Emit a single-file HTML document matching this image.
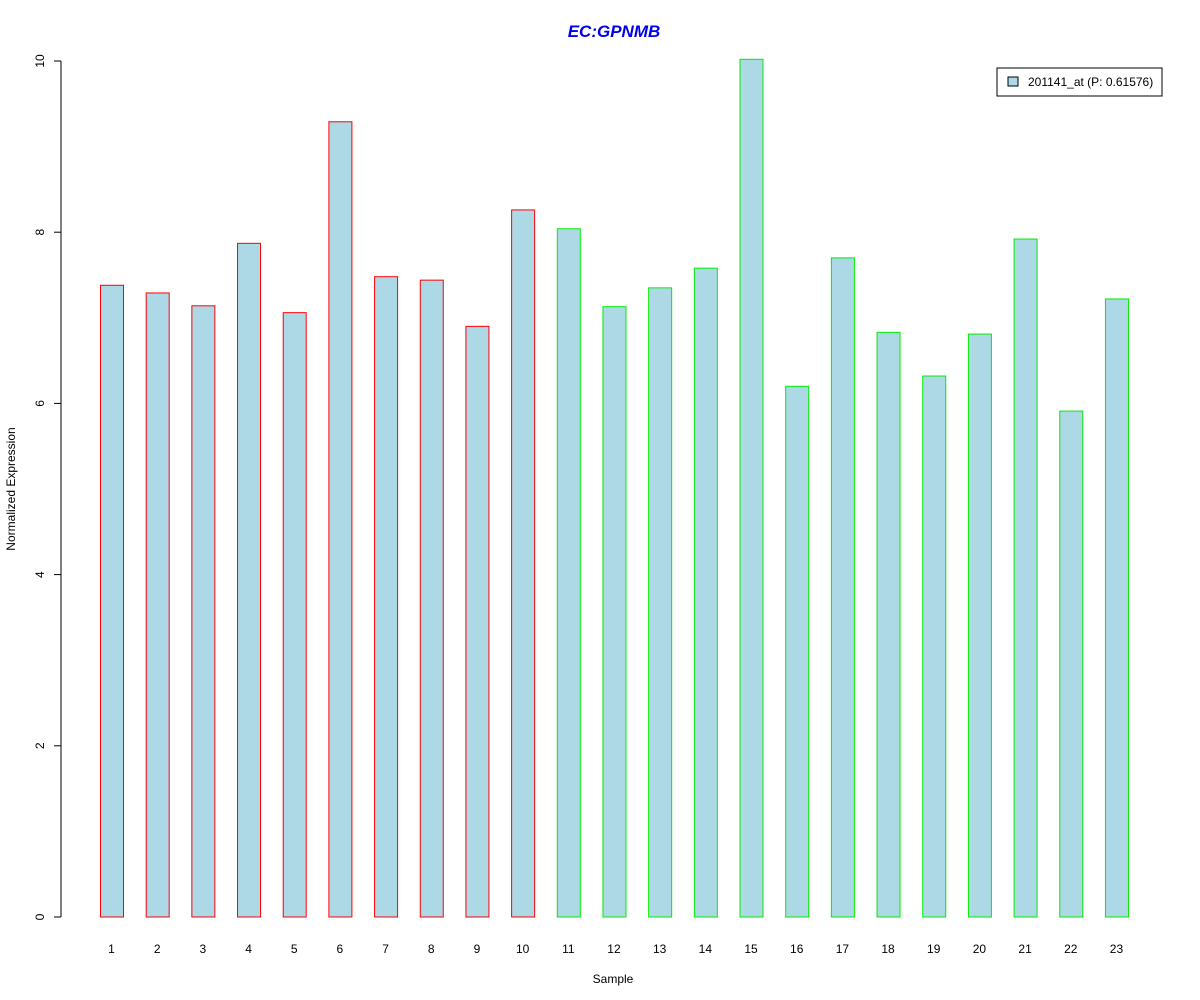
<!DOCTYPE html>
<html><head><meta charset="utf-8"><style>
body{margin:0;background:#fff}
svg{display:block;font-family:"Liberation Sans",Arial,sans-serif}
</style></head><body>
<svg id="chart" width="1200" height="1000" viewBox="0 0 1200 1000">
<text x="614" y="37" text-anchor="middle" font-size="17" font-weight="bold" font-style="italic" fill="#0000ee">EC:GPNMB</text>
<text transform="translate(15,489) rotate(-90)" text-anchor="middle" font-size="12">Normalized Expression</text>
<text x="613" y="983" text-anchor="middle" font-size="12">Sample</text>
<g id="yaxis"></g>
<g id="bars"></g>
<g id="xlabels"></g>
<g>
<rect x="997" y="68" width="165" height="28" fill="#fff" stroke="#000"/>
<rect x="1008" y="77" width="10" height="9" fill="#add8e6" stroke="#000"/>
<text x="1028" y="86" font-size="12">201141_at (P: 0.61576)</text>
</g>
<script>
const categories=["1","2","3","4","5","6","7","8","9","10","11","12","13","14","15","16","17","18","19","20","21","22","23"];
const values=[7.38,7.29,7.14,7.87,7.06,9.29,7.48,7.44,6.90,8.26,8.04,7.13,7.35,7.58,10.02,6.20,7.70,6.83,6.32,6.81,7.92,5.91,7.22];
const groups=["a","a","a","a","a","a","a","a","a","a","b","b","b","b","b","b","b","b","b","b","b","b","b"];
const yTicks=[0,2,4,6,8,10];
const NS="http://www.w3.org/2000/svg";
function y(v){return 917-v*85.6;}
function x(i){return 100+i*45.68;}
const ya=document.getElementById('yaxis');
let l=document.createElementNS(NS,'line');
l.setAttribute('x1',61);l.setAttribute('x2',61);l.setAttribute('y1',y(0));l.setAttribute('y2',y(10));l.setAttribute('stroke','#000');


ya.appendChild(l);
yTicks.forEach(t=>{
 const tk=document.createElementNS(NS,'line');
 tk.setAttribute('x1',54);tk.setAttribute('x2',61);tk.setAttribute('y1',y(t));tk.setAttribute('y2',y(t));tk.setAttribute('stroke','#000');
 
 
 ya.appendChild(tk);
 const tx=document.createElementNS(NS,'text');
 tx.setAttribute('transform','translate(44,'+y(t)+') rotate(-90)');tx.setAttribute('text-anchor','middle');tx.setAttribute('font-size','12');
 tx.textContent=t;
 
 
 ya.appendChild(tx);
});
const bg=document.getElementById('bars'),xg=document.getElementById('xlabels');
values.forEach((v,i)=>{
 const r=document.createElementNS(NS,'rect');
 r.setAttribute('x',x(i)+0.5);r.setAttribute('width',23);r.setAttribute('y',y(v));r.setAttribute('height',y(0)-y(v));
 r.setAttribute('fill','#add8e6');r.setAttribute('stroke',groups[i]==='a'?'#ff0000':'#00ee00');
 
 
 bg.appendChild(r);
 const t=document.createElementNS(NS,'text');
 t.setAttribute('x',x(i)+11.5);t.setAttribute('y',953);t.setAttribute('text-anchor','middle');t.setAttribute('font-size','12');
 t.textContent=categories[i];
 
 
 xg.appendChild(t);
});
</script>
</svg>
</body></html>
